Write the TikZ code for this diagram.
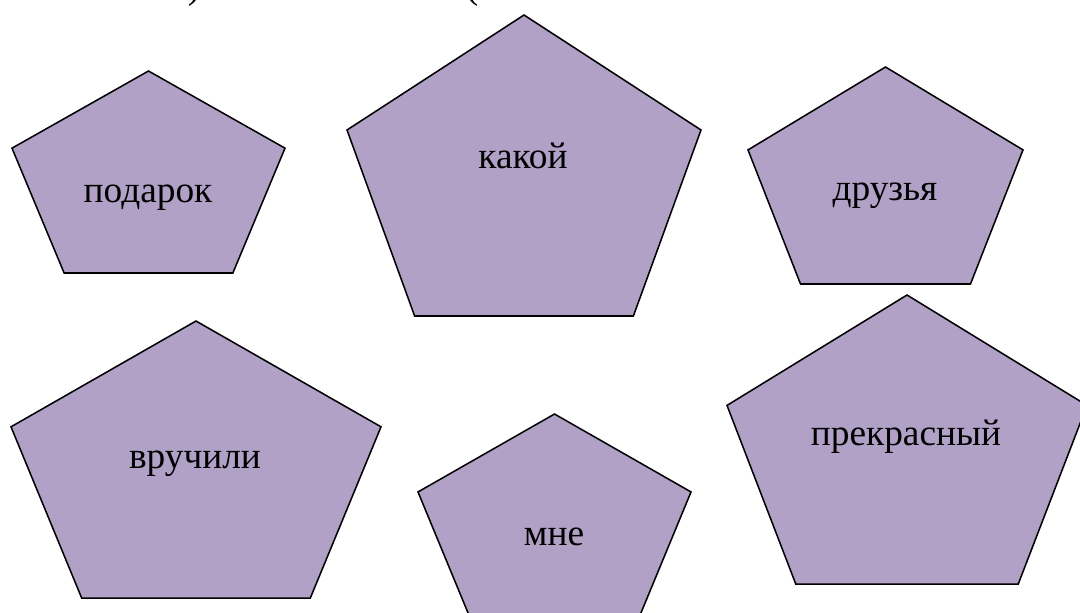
\documentclass[tikz,border=0pt]{standalone}
\usepackage{fontspec}
\setmainfont{Liberation Serif}
\definecolor{lav}{HTML}{B2A1C7}
\newcommand{\mypent}[4]{%
  \filldraw[pent] ({#1},{#2}) -- ({#1-#3/2},{#2+0.382*#4}) -- ({#1-0.309*#3},{#2+#4})
    -- ({#1+0.309*#3},{#2+#4}) -- ({#1+#3/2},{#2+0.382*#4}) -- cycle;}
\begin{document}
\begin{tikzpicture}[x=0.75pt,y=-0.75pt,
  pent/.style={fill=lav,draw=black,line width=1.15pt,line join=miter},
  word/.style={font=\fontsize{28}{33}\selectfont,anchor=base,inner sep=0pt}]
\useasboundingbox (0,0) rectangle (1080,612);
% pentagons: cx, ytop, width, height
\mypent{148.5}{71}{273}{202}
\mypent{524}{15}{354}{301}
\mypent{885.5}{67}{275}{217}
\mypent{196}{321}{370}{277}
\mypent{554.5}{414}{273}{204}
\mypent{907}{295}{360}{289}
% words
\node[word] (podarok) at (148,202) {подарок};
\node[word] (kakoj) at (523,168) {какой};
\node[word] (druzja) at (885,200) {друзья};
\node[word] (vruchili) at (195,468) {вручили};
\node[word] (mne) at (554,545) {мне};
\node[word] (prekrasnyj) at (906,445) {прекрасный};
% fragments of a cut-off line above the picture
\node[word] (frag1) at (194,-2) {)};
\node[word] (frag2) at (472,-2) {(};
\end{tikzpicture}
\end{document}
